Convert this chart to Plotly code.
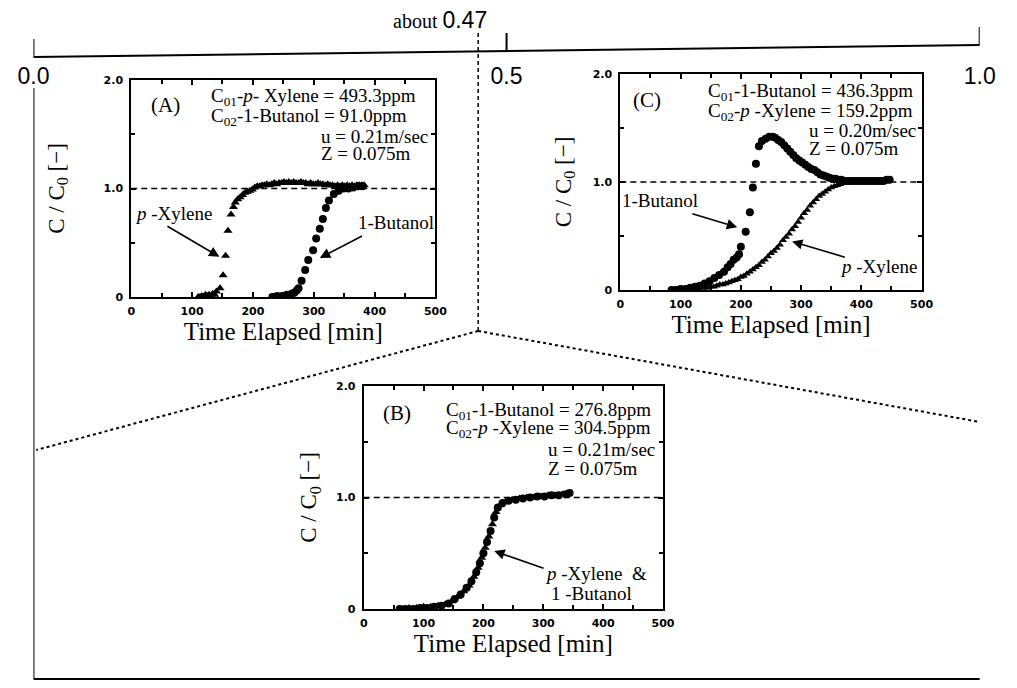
import plotly.graph_objects as go

W, H = 1017, 688

# ---------------- data ----------------
# Panel (A): C01 = p-Xylene 493.3 ppm, C02 = 1-Butanol 91.0 ppm
a_xyl_t = [110, 113, 116, 119, 122, 125, 128, 131, 134, 137, 140, 146, 151, 155, 159, 164, 168, 171, 175,
           179, 183, 187, 191, 195, 199, 203, 207, 211, 215, 219, 223, 227, 231, 235, 239, 243, 247, 251,
           255, 259, 263, 267, 271, 275, 279, 283, 287, 291, 295, 299, 303, 307, 311, 315, 319, 323, 327,
           331, 335, 339, 343, 347, 351, 355, 359, 363, 367, 371, 375, 379, 383]
a_xyl_c = [0.00, 0.00, 0.01, 0.00, 0.02, 0.01, 0.02, 0.01, 0.03, 0.02, 0.05, 0.08, 0.20, 0.38, 0.61, 0.76,
           0.83, 0.87, 0.90, 0.92, 0.94, 0.96, 0.97, 0.98, 0.99, 1.01, 1.02, 1.02, 1.03, 1.03, 1.04, 1.03,
           1.04, 1.05, 1.04, 1.05, 1.05, 1.06, 1.05, 1.06, 1.05, 1.06, 1.05, 1.05, 1.06, 1.05, 1.05, 1.04,
           1.05, 1.04, 1.04, 1.05, 1.04, 1.04, 1.03, 1.04, 1.03, 1.03, 1.02, 1.03, 1.02, 1.03, 1.02, 1.03,
           1.02, 1.03, 1.02, 1.03, 1.03, 1.03, 1.03]
a_but_t = [232, 236, 240, 244, 248, 252, 256, 260, 264, 268, 272, 275, 280, 286, 291, 299, 304, 310, 315,
           320, 325, 333, 341, 349, 357, 365, 373, 380]
a_but_c = [0.00, 0.00, 0.01, 0.00, 0.01, 0.01, 0.02, 0.02, 0.03, 0.04, 0.06, 0.08, 0.15, 0.25, 0.34, 0.43,
           0.54, 0.63, 0.72, 0.82, 0.89, 0.95, 0.98, 1.00, 1.00, 1.01, 1.02, 1.02]

# Panel (C): C01 = 1-Butanol 436.3 ppm, C02 = p-Xylene 159.2 ppm
c_but_t = [85, 92, 100, 108, 116, 124, 132, 140, 148, 156, 164, 172, 178, 183, 188, 193, 197, 200, 208,
           215, 220, 225, 230, 235, 241, 247, 253, 257, 262, 267, 272, 277, 282, 287, 292, 297, 302, 307,
           312, 317, 322, 327, 332, 337, 342, 347, 352, 357, 362, 367, 372, 377, 382, 387, 392, 397, 402,
           407, 412, 417, 422, 427, 432, 437, 442, 447]
c_but_c = [0.00, 0.00, 0.01, 0.01, 0.02, 0.03, 0.04, 0.06, 0.08, 0.11, 0.14, 0.17, 0.21, 0.24, 0.28, 0.30,
           0.33, 0.40, 0.54, 0.72, 0.95, 1.17, 1.33, 1.38, 1.40, 1.42, 1.42, 1.41, 1.39, 1.37, 1.34, 1.31,
           1.28, 1.25, 1.22, 1.20, 1.18, 1.16, 1.14, 1.12, 1.11, 1.09, 1.07, 1.06, 1.05, 1.04, 1.03, 1.03,
           1.02, 1.02, 1.01, 1.01, 1.01, 1.01, 1.01, 1.01, 1.01, 1.01, 1.01, 1.01, 1.01, 1.01, 1.01, 1.01,
           1.02, 1.02]
c_xyl_t = [85, 90, 95, 100, 105, 110, 115, 120, 125, 130, 135, 140, 145, 150, 155, 160, 165, 170, 175, 180,
           185, 190, 195, 200, 205, 210, 215, 220, 225, 230, 235, 240, 245, 250, 255, 260, 265, 270, 275,
           280, 285, 290, 295, 300, 305, 310, 315, 320, 325, 330, 335, 340, 345, 350, 355, 360, 365, 370,
           375, 380, 385, 390, 395, 400, 405, 410, 415, 420, 425, 430, 435, 440, 445]
c_xyl_c = [0.00, 0.00, 0.00, 0.00, 0.01, 0.00, 0.01, 0.01, 0.01, 0.01, 0.02, 0.02, 0.02, 0.03, 0.03, 0.04,
           0.05, 0.05, 0.06, 0.07, 0.08, 0.09, 0.10, 0.12, 0.13, 0.15, 0.17, 0.19, 0.21, 0.23, 0.26, 0.28,
           0.31, 0.34, 0.36, 0.39, 0.42, 0.46, 0.49, 0.52, 0.56, 0.59, 0.63, 0.67, 0.71, 0.74, 0.78, 0.81,
           0.84, 0.87, 0.89, 0.91, 0.93, 0.95, 0.96, 0.97, 0.98, 0.99, 0.99, 1.00, 1.00, 1.00, 1.00, 1.00,
           1.00, 1.00, 1.00, 1.00, 1.01, 1.01, 1.01, 1.01, 1.02]

# Panel (B): C01 = 1-Butanol 276.8 ppm, C02 = p-Xylene 304.5 ppm (curves coincide)
b_but_t = [60, 70, 82, 94, 106, 118, 130, 142, 152, 162, 172, 180, 188, 194, 200, 206, 212, 218, 224, 232,
           242, 254, 266, 278, 290, 302, 314, 326, 338, 344]
b_but_c = [0.00, 0.00, 0.00, 0.01, 0.01, 0.02, 0.03, 0.05, 0.09, 0.13, 0.19, 0.25, 0.33, 0.41, 0.50, 0.60,
           0.70, 0.82, 0.91, 0.95, 0.97, 0.98, 0.99, 1.00, 1.01, 1.01, 1.02, 1.02, 1.03, 1.04]
b_xyl_t = [65, 76, 88, 100, 112, 124, 136, 147, 157, 167, 176, 184, 191, 197, 203, 209, 215, 221, 228, 237,
           248, 260, 272, 284, 296, 308, 320, 332]
b_xyl_c = [0.00, 0.01, 0.01, 0.02, 0.02, 0.03, 0.04, 0.07, 0.11, 0.16, 0.21, 0.29, 0.37, 0.46, 0.55, 0.65,
           0.76, 0.87, 0.93, 0.96, 0.98, 0.99, 1.00, 1.00, 1.01, 1.02, 1.02, 1.03]

x_tickvals = [0, 100, 200, 300, 400, 500]
y_tickvals = [0, 1, 2]
y_ticktext = ["0", "1.0", "2.0"]
number_line_ticks = [0.0, 0.5, 1.0]
number_line_text = ["0.0", "0.5", "1.0"]
split_point = 0.47

SERIF = "Liberation Serif, Times New Roman, serif"
TICKF = dict(family="DejaVu Sans, sans-serif", size=11, color="black", weight="bold")
NUMF = "Liberation Sans, Arial, sans-serif"


def px(x):
    return x / W


def py(y):
    return 1 - y / H


fig = go.Figure()

tri = dict(symbol="triangle-up", color="black", size=8, line=dict(width=0))
dot = dict(symbol="circle", color="black", size=8, line=dict(width=0))

fig.add_trace(go.Scatter(x=a_xyl_t, y=a_xyl_c, mode="markers", marker=tri, xaxis="x", yaxis="y", name="p-Xylene (A)"))
fig.add_trace(go.Scatter(x=a_but_t, y=a_but_c, mode="markers", marker=dot, xaxis="x", yaxis="y", name="1-Butanol (A)"))
fig.add_trace(go.Scatter(x=c_xyl_t, y=c_xyl_c, mode="markers", marker=dict(tri, size=7), xaxis="x2", yaxis="y2", name="p-Xylene (C)"))
fig.add_trace(go.Scatter(x=c_but_t, y=c_but_c, mode="markers", marker=dot, xaxis="x2", yaxis="y2", name="1-Butanol (C)"))
fig.add_trace(go.Scatter(x=b_xyl_t, y=b_xyl_c, mode="markers", marker=dict(tri, size=8), xaxis="x3", yaxis="y3", name="p-Xylene (B)"))
fig.add_trace(go.Scatter(x=b_but_t, y=b_but_c, mode="markers", marker=dict(dot, size=8), xaxis="x3", yaxis="y3", name="1-Butanol (B)"))
# number line carrier (invisible)
fig.add_trace(go.Scatter(x=number_line_ticks, y=[0] * len(number_line_ticks), mode="markers",
                         marker=dict(opacity=0), xaxis="x4", yaxis="y4", hoverinfo="skip"))


def xax(dom, anchor):
    return dict(domain=dom, range=[0, 500], anchor=anchor, tickvals=x_tickvals,
                ticks="inside", ticklen=5, tickwidth=1.5, tickcolor="black",
                minor=dict(dtick=50, tick0=0, ticks="inside", ticklen=4, tickwidth=1.5, tickcolor="black"),
                showline=True, linewidth=2, linecolor="black", mirror="allticks",
                showgrid=False, zeroline=False, tickfont=TICKF, ticklabelstandoff=3,
                automargin=False,
                title=dict(text="Time Elapsed [min]", font=dict(family=SERIF, size=25, color="black"), standoff=3))


def yax(dom, anchor, standoff):
    return dict(domain=dom, range=[0, 2], anchor=anchor, tickvals=y_tickvals, ticktext=y_ticktext,
                ticks="inside", ticklen=5, tickwidth=1.5, tickcolor="black",
                minor=dict(dtick=0.5, tick0=0, ticks="inside", ticklen=4, tickwidth=1.5, tickcolor="black"),
                showline=True, linewidth=2, linecolor="black", mirror="allticks",
                showgrid=False, zeroline=False, tickfont=TICKF, ticklabelstandoff=4,
                automargin=False,
                title=dict(text="C / C<sub>0</sub> [\u2212]", font=dict(family=SERIF, size=23, color="black"),
                           standoff=standoff))


fig.update_layout(
    width=W, height=H, margin=dict(l=0, r=0, t=0, b=0),
    paper_bgcolor="white", plot_bgcolor="rgba(0,0,0,0)", showlegend=False,
    xaxis=xax([px(119), px(433)], "y"),
    yaxis=yax([py(297), py(80)], "x", 33),
    xaxis2=xax([px(624), px(935)], "y2"),
    yaxis2=yax([py(290), py(74)], "x2", 15),
    xaxis3=xax([px(359), px(668)], "y3"),
    yaxis3=yax([py(609), py(386)], "x3", 13),
    xaxis4=dict(domain=[px(18), px(995)], range=[0, 1], anchor="y4", tickvals=number_line_ticks,
                ticktext=number_line_text, ticks="", showline=False, showgrid=False, zeroline=False,
                tickfont=dict(family=NUMF, size=23, color="black"), ticklabelstandoff=0),
    yaxis4=dict(domain=[py(60), py(20)], range=[0, 1], anchor="x4", visible=False),
)

shapes = []
# y = 1.0 dashed reference lines
for xr, yr in [("x", "y"), ("x2", "y2"), ("x3", "y3")]:
    shapes.append(dict(type="line", xref=f"{xr} domain", yref=yr, x0=0, x1=1, y0=1, y1=1,
                       line=dict(color="black", width=1.5, dash="6px,4px"), layer="below"))

# number line (slightly slanted as in the scan)
yl0, yl1 = 57, 45


def yline(t):
    return yl0 + (yl1 - yl0) * t


shapes.append(dict(type="line", xref="x4", yref="paper", x0=0, x1=1, y0=py(yl0), y1=py(yl1),
                   line=dict(color="black", width=2)))
for t in number_line_ticks:
    shapes.append(dict(type="line", xref="x4", yref="paper", x0=t, x1=t, y0=py(yline(t)), y1=py(yline(t) - 18),
                       line=dict(color="black", width=2)))
apex_y = 331
shapes.append(dict(type="line", xref="x4", yref="paper", x0=split_point, x1=split_point, y0=py(33), y1=py(apex_y),
                   line=dict(color="black", width=1.5, dash="4px,3px")))
# frame
right_t = 1.006
shapes.append(dict(type="line", xref="x4", yref="paper", x0=0, x1=0, y0=py(88), y1=py(679),
                   line=dict(color="black", width=2)))
shapes.append(dict(type="line", xref="x4", yref="paper", x0=right_t, x1=right_t, y0=py(85), y1=py(679),
                   line=dict(color="black", width=2)))
shapes.append(dict(type="line", xref="x4", yref="paper", x0=0, x1=right_t, y0=py(679), y1=py(679),
                   line=dict(color="black", width=2)))
# dotted fan from the split point
shapes.append(dict(type="line", xref="x4", yref="paper", x0=split_point, x1=0.003, y0=py(apex_y), y1=py(450),
                   line=dict(color="black", width=2, dash="dot")))
shapes.append(dict(type="line", xref="x4", yref="paper", x0=split_point, x1=right_t, y0=py(apex_y), y1=py(423),
                   line=dict(color="black", width=2, dash="dot")))
fig.update_layout(shapes=shapes)

ann = []
TF = dict(family=SERIF, size=19, color="black")


def txt(x, y, s, xr, yr, anchor="left", size=19):
    ann.append(dict(x=x, y=y, xref=xr, yref=yr, text=s, showarrow=False, xanchor=anchor, yanchor="middle",
                    font=dict(TF, size=size)))


def arrow(x, y, ax, ay, xr, yr):
    ann.append(dict(x=x, y=y, ax=ax, ay=ay, xref=xr, yref=yr, axref=xr, ayref=yr, text="", showarrow=True,
                    arrowhead=2, arrowsize=1.3, arrowwidth=1.6, arrowcolor="black", standoff=0))


# Panel A
txt(57, 1.77, "(A)", "x", "y", "center", 21)
txt(128, 1.84, "C<sub>01</sub>-<i>p</i>- Xylene = 493.3ppm", "x", "y")
txt(128, 1.66, "C<sub>02</sub>-1-Butanol = 91.0ppm", "x", "y")
txt(308, 1.48, "u = 0.21m/sec", "x", "y")
txt(308, 1.32, "Z = 0.075m", "x", "y")
txt(70, 0.77, "<i>p</i> -Xylene", "x", "y", "center")
txt(435, 0.69, "1-Butanol", "x", "y", "center")
arrow(145, 0.37, 57, 0.66, "x", "y")
arrow(310, 0.36, 382, 0.57, "x", "y")

# Panel C
txt(45, 1.76, "(C)", "x2", "y2", "center", 21)
txt(142, 1.83, "C<sub>01</sub>-1-Butanol = 436.3ppm", "x2", "y2")
txt(142, 1.65, "C<sub>02</sub>-<i>p</i> -Xylene = 159.2ppm", "x2", "y2")
txt(310, 1.48, "u = 0.20m/sec", "x2", "y2")
txt(310, 1.31, "Z = 0.075m", "x2", "y2")
txt(65, 0.83, "1-Butanol", "x2", "y2", "center")
txt(428, 0.22, "<i>p</i> -Xylene", "x2", "y2", "center")
arrow(194, 0.58, 117, 0.71, "x2", "y2")
arrow(285, 0.45, 375, 0.30, "x2", "y2")

# Panel B
txt(55, 1.76, "(B)", "x3", "y3", "center", 21)
txt(134, 1.78, "C<sub>01</sub>-1-Butanol = 276.8ppm", "x3", "y3")
txt(134, 1.61, "C<sub>02</sub>-<i>p</i> -Xylene = 304.5ppm", "x3", "y3")
txt(305, 1.43, "u = 0.21m/sec", "x3", "y3")
txt(305, 1.26, "Z = 0.075m", "x3", "y3")
txt(388, 0.32, "<i>p</i> -Xylene  &", "x3", "y3", "center")
txt(380, 0.14, "1 -Butanol", "x3", "y3", "center")
arrow(218, 0.52, 303, 0.36, "x3", "y3")

# number line caption
ann.append(dict(x=0.43, y=py(20), xref="x4", yref="paper", showarrow=False, xanchor="center", yanchor="middle",
                text="about <span style='font-family:Liberation Sans; font-size:23px'>0.47</span>",
                font=dict(family=SERIF, size=20, color="black")))

fig.update_layout(annotations=ann)

fig.write_html("out.html")
